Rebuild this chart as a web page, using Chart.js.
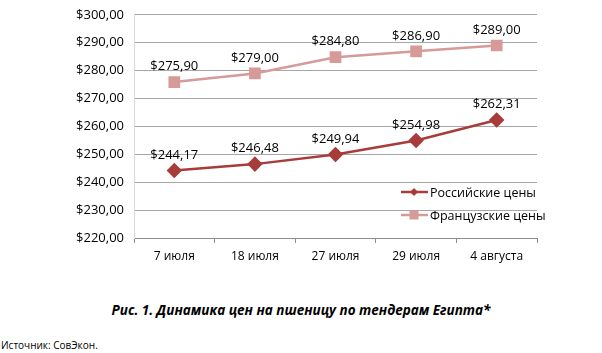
<!DOCTYPE html>
<html>
<head>
<meta charset="utf-8">
<script src="https://cdn.jsdelivr.net/npm/chart.js@4"></script>
<style>
  body { margin: 0; background: #fff; width: 602px; height: 353px; position: relative; overflow: hidden; }
  #wrap { position: absolute; left: 0; top: -3px; width: 602px; height: 278px; }
  #caption { position: absolute; left: 0; width: 602px; top: 301px; text-align: center;
    font: italic bold 13.5px "Open Sans", sans-serif; color: #000; }
  #source { position: absolute; left: 1px; top: 338px; font: 10px "Open Sans", sans-serif; color: #000; }
</style>
</head>
<body>
<div id="wrap"><canvas id="myChart"></canvas></div>
<div id="caption">Рис. 1. Динамика цен на пшеницу по тендерам Египта*</div>
<div id="source">Источник: СовЭкон.</div>
<script>
var dates = ["7 июля", "18 июля", "27 июля", "29 июля", "4 августа"];
var russianPrices = [244.17, 246.48, 249.94, 254.98, 262.31];
var frenchPrices = [275.90, 279.00, 284.80, 286.90, 289.00];
var seriesNames = ["Российские цены", "Французские цены"];

var fontFamily = "'Open Sans', sans-serif";

function money(v) {
    return "$" + v.toFixed(2).replace(".", ",");
}

// labels above each point + legend drawn inside the plot
var extras = {
    id: "extras",
    afterDatasetsDraw: function (chart) {
        var ctx = chart.ctx;
        ctx.save();
        ctx.font = "13px " + fontFamily;
        ctx.fillStyle = "#000";
        ctx.textAlign = "center";
        ctx.textBaseline = "bottom";
        chart.data.datasets.forEach(function (ds, i) {
            chart.getDatasetMeta(i).data.forEach(function (pt, j) {
                ctx.fillText(money(ds.data[j]), pt.x, pt.y - 9);
            });
        });
        // legend (canvas is shifted up 3px)
        var lx = 401, ly = [195, 218];
        ctx.textAlign = "left";
        ctx.textBaseline = "middle";
        ctx.font = "12.5px " + fontFamily;
        chart.data.datasets.forEach(function (ds, i) {
            ctx.strokeStyle = ds.borderColor;
            ctx.lineWidth = 2.5;
            ctx.beginPath();
            ctx.moveTo(lx, ly[i]);
            ctx.lineTo(lx + 27, ly[i]);
            ctx.stroke();
            ctx.fillStyle = ds.backgroundColor;
            var cx = lx + 13, cy = ly[i];
            if (i === 0) {
                ctx.beginPath();
                ctx.moveTo(cx, cy - 4); ctx.lineTo(cx + 4, cy);
                ctx.lineTo(cx, cy + 4); ctx.lineTo(cx - 4, cy);
                ctx.closePath(); ctx.fill();
            } else {
                ctx.fillRect(cx - 4.5, cy - 4.5, 9, 9);
            }
            ctx.fillStyle = "#000";
            ctx.fillText(ds.label, lx + 29, ly[i] + 1);
        });
        ctx.restore();
    }
};

new Chart("myChart", {
    type: "line",
    data: {
        labels: dates,
        datasets: [{
            label: seriesNames[0],
            data: russianPrices,
            borderColor: "#A83C3A",
            backgroundColor: "#A83C3A",
            borderWidth: 2.5,
            pointStyle: "rectRot",
            pointRadius: 6,
            pointHoverRadius: 6
        }, {
            label: seriesNames[1],
            data: frenchPrices,
            borderColor: "#D69A98",
            backgroundColor: "#D69A98",
            borderWidth: 2.5,
            pointStyle: "rect",
            pointRadius: 6.5,
            pointHoverRadius: 6.5
        }]
    },
    plugins: [extras],
    options: {
        responsive: true,
        maintainAspectRatio: false,
        animation: false,
        layout: { padding: { left: 0, right: 65, top: 11, bottom: 0 } },
        plugins: {
            legend: { display: false },
            tooltip: { enabled: false }
        },
        scales: {
            x: {
                offset: true,
                grid: { offset: true, drawOnChartArea: false, tickLength: 5, color: "#8c8c8c" },
                border: { color: "#8c8c8c" },
                ticks: { color: "#000", font: { family: fontFamily, size: 12 }, padding: 6 },
                afterFit: function (s) { s.height = 37; }
            },
            y: {
                min: 220,
                max: 300,
                ticks: { stepSize: 10, color: "#000", font: { family: fontFamily, size: 13 }, padding: 10,
                    callback: function (v) { return money(v); } },
                grid: { color: "#a6a6a6", drawTicks: false },
                border: { color: "#d9d9d9" },
                afterFit: function (s) { s.width = 134; }
            }
        }
    }
});
</script>
</body>
</html>
